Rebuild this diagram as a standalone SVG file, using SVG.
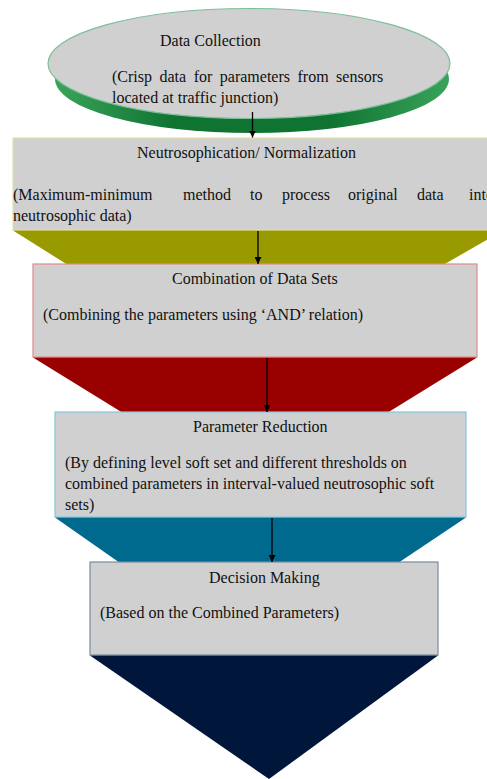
<svg xmlns="http://www.w3.org/2000/svg" width="487" height="779" viewBox="0 0 487 779">
<defs>
<style>
text{font-family:"Liberation Serif","Times New Roman",serif;font-size:16px;fill:#111}
.box{fill:#d0d0d0;stroke-width:1.2}
.conn line{stroke:#000;stroke-width:1.3}
</style>
<marker id="ah" viewBox="0 0 10 10" refX="10" refY="5" markerWidth="7" markerHeight="7" markerUnits="userSpaceOnUse" orient="auto">
<path d="M0,0L10,5L0,10z" fill="#000"/>
</marker>
<linearGradient id="grn" x1="0" y1="0" x2="1" y2="0">
<stop offset="0" stop-color="#3aa35a"/>
<stop offset="0.3" stop-color="#0f7432"/>
<stop offset="0.7" stop-color="#0f7432"/>
<stop offset="1" stop-color="#3aa35a"/>
</linearGradient>
</defs>
<rect width="487" height="779" fill="#fff"/>
<g id="n1">
<ellipse cx="252" cy="79" rx="197" ry="54" fill="url(#grn)"/>
<ellipse cx="249" cy="63.5" rx="201" ry="55" fill="#d0d0d0" stroke="#7cbf98" stroke-width="1.2"/>
<text x="160" y="46">Data Collection</text>
<text x="112" y="82" word-spacing="3.5">(Crisp data for parameters from sensors</text>
<text x="112" y="102.5">located at traffic junction)</text>
</g>
<g id="n2">
<rect class="box" x="13" y="138" width="490" height="92" stroke="#e2e2a6"/>
<polygon points="13,230.6 503,230.6 443,265 68,265" fill="#999900"/>
<text x="137" y="158">Neutrosophication/ Normalization</text>
<text y="200"><tspan x="13">(Maximum-minimum</tspan><tspan x="183">method</tspan><tspan x="250">to</tspan><tspan x="282">process</tspan><tspan x="348">original</tspan><tspan x="417">data</tspan><tspan x="469">into</tspan></text>
<text x="13" y="221">neutrosophic data)</text>
</g>
<g id="n3">
<rect class="box" x="33" y="264" width="444" height="93" stroke="#e28a8a"/>
<polygon points="33,357.6 477,357.6 387,413 123,413" fill="#990000"/>
<text x="172" y="284">Combination of Data Sets</text>
<text x="43" y="320">(Combining the parameters using ‘AND’ relation)</text>
</g>
<g id="n4">
<rect class="box" x="55" y="412" width="411" height="105" stroke="#86c6de"/>
<polygon points="55,517.6 466,517.6 398,563 120,563" fill="#006a8e"/>
<text x="193" y="432">Parameter Reduction</text>
<text x="65" y="468">(By defining level soft set and different thresholds on</text>
<text x="65" y="489">combined parameters in interval-valued neutrosophic soft</text>
<text x="65" y="510">sets)</text>
</g>
<g id="n5">
<rect class="box" x="90" y="562" width="348" height="93" stroke="#7d8aa2"/>
<polygon points="90,655.6 438,655.6 269,779" fill="#00163a"/>
<text x="209" y="583">Decision Making</text>
<text x="100" y="618">(Based on the Combined Parameters)</text>
</g>
<g id="connectors" class="conn">
<line x1="252.5" y1="112" x2="252.5" y2="137.5" marker-end="url(#ah)"/>
<line x1="258" y1="231" x2="258" y2="264" marker-end="url(#ah)"/>
<line x1="267" y1="358" x2="267" y2="412" marker-end="url(#ah)"/>
<line x1="272" y1="518" x2="272" y2="562" marker-end="url(#ah)"/>
</g>
</svg>
